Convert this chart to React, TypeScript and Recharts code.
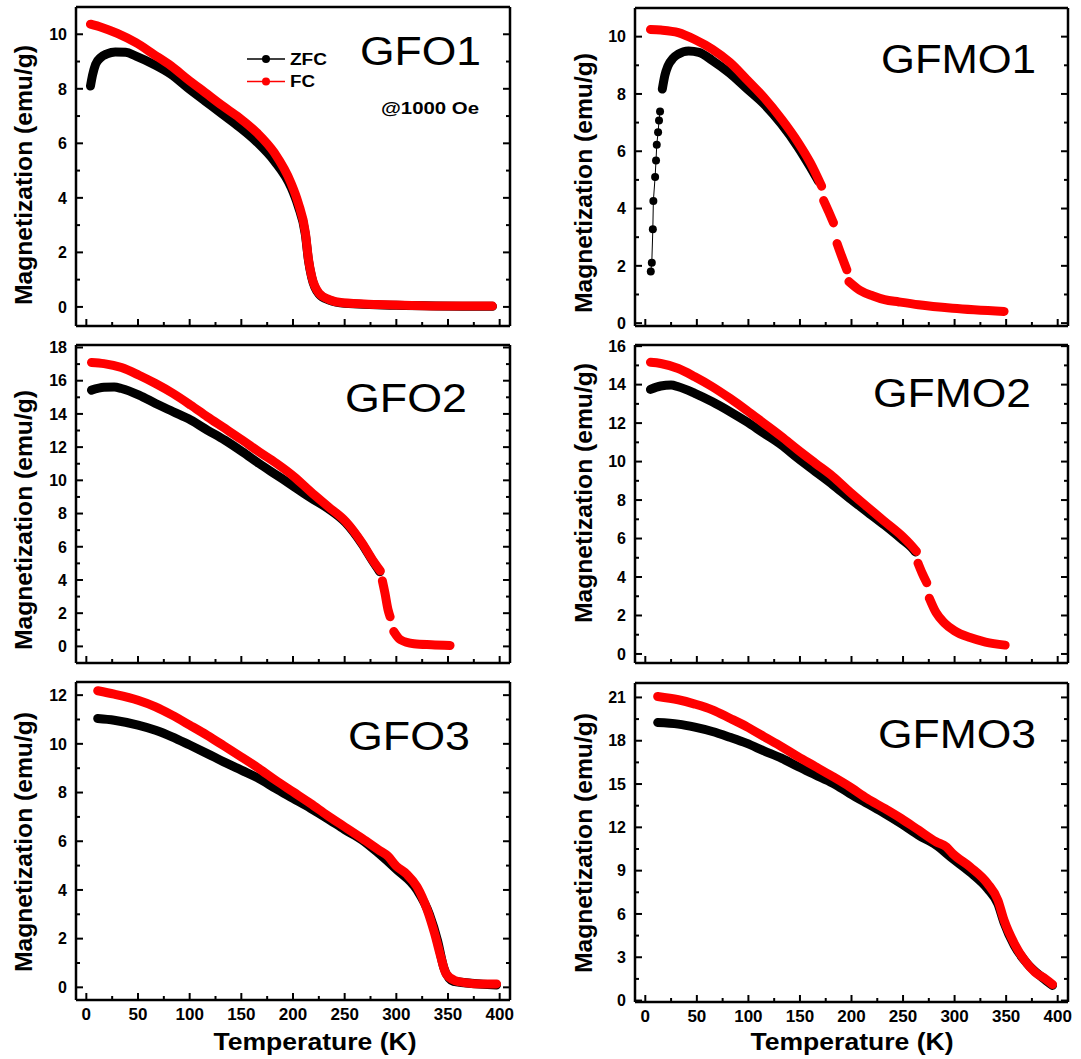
import { LineChart, Line, XAxis, YAxis } from 'recharts';

type Pt = [number, number | null];

// temperature (K) vs magnetization (emu/g)
const gfo1Zfc: Pt[] = [[4, 8.1], [6, 8.5], [9, 8.9], [14, 9.15], [20, 9.28], [28, 9.35], [38, 9.34], [48, 9.2], [65, 8.9], [82, 8.53], [98, 8.04], [115, 7.55], [132, 7.06], [148, 6.6], [165, 6.05], [182, 5.35], [198, 4.4], [205, 3.7], [212, 2.65], [215, 1.7], [218, 1.1], [225, 0.48], [235, 0.25], [250, 0.13], [300, 0.06], [393, 0.02]];
const gfo1Fc: Pt[] = [[4, 10.37], [15, 10.25], [30, 10.03], [48, 9.69], [65, 9.27], [82, 8.84], [98, 8.35], [115, 7.86], [132, 7.37], [148, 6.94], [165, 6.39], [182, 5.65], [198, 4.55], [205, 3.82], [212, 2.72], [215, 1.74], [218, 1.13], [225, 0.51], [235, 0.27], [248, 0.15], [282, 0.09], [315, 0.05], [348, 0.03], [393, 0.03]];

const gfmo1ZfcLowT: Pt[] = [[5.3, 1.8], [6.3, 2.11], [7.3, 3.28], [7.8, 4.26], [9.5, 5.1], [10.4, 5.68], [11.1, 6.23], [12.4, 6.66], [13.3, 7.07], [14.3, 7.39]];
const gfmo1Zfc: Pt[] = [[16.5, 8.17], [19, 8.65], [22, 8.98], [27, 9.25], [32, 9.39], [42, 9.5], [52, 9.45], [65, 9.17], [82, 8.72], [98, 8.2], [115, 7.65], [132, 6.95], [148, 6.15], [160, 5.45], [168, 4.95]];
const gfmo1Fc: Pt[] = [[5, 10.25], [15, 10.23], [32, 10.14], [48, 9.9], [65, 9.56], [82, 9.1], [98, 8.52], [115, 7.88], [132, 7.13], [148, 6.32], [160, 5.6], [171, 4.78], [172, null], [173, 4.28], [178, 3.88], [182.5, 3.5], [184, null], [186, 2.78], [190.6, 2.32], [195.5, 1.86], [196.5, null], [197.5, 1.45], [208, 1.15], [221, 0.95], [232, 0.82], [246, 0.74], [265, 0.64], [298, 0.52], [348, 0.41]];

const gfo2Zfc: Pt[] = [[5, 15.43], [17, 15.6], [27, 15.62], [34, 15.53], [51, 15.13], [67, 14.63], [84, 14.13], [101, 13.63], [117, 13.03], [134, 12.42], [151, 11.72], [167, 11.02], [184, 10.32], [201, 9.62], [217, 8.95], [234, 8.3], [251, 7.45], [267, 6.15], [277, 5.15], [284, 4.5]];
const gfo2Fc: Pt[] = [[5, 17.1], [17, 17.03], [34, 16.79], [51, 16.33], [67, 15.83], [84, 15.23], [101, 14.53], [117, 13.83], [134, 13.13], [151, 12.42], [167, 11.72], [184, 11.02], [201, 10.22], [217, 9.32], [234, 8.42], [251, 7.52], [267, 6.21], [277, 5.21], [284.5, 4.55], [285.5, null], [286.5, 3.95], [289, 3.21], [292, 2.2], [294, 1.78], [295.5, null], [297.5, 0.9], [304, 0.4], [317, 0.16], [334, 0.1], [352, 0.06]];

const gfmo2Zfc: Pt[] = [[5, 13.75], [15, 13.93], [25, 13.98], [32, 13.89], [48, 13.55], [65, 13.11], [82, 12.6], [98, 12.08], [115, 11.47], [132, 10.87], [148, 10.17], [165, 9.48], [182, 8.79], [198, 8.1], [215, 7.4], [232, 6.7], [248, 6.0], [258, 5.55], [262, 5.3]];
const gfmo2Fc: Pt[] = [[5, 15.16], [15, 15.1], [32, 14.84], [48, 14.41], [65, 13.89], [82, 13.29], [98, 12.68], [115, 11.99], [132, 11.3], [148, 10.61], [165, 9.91], [182, 9.22], [198, 8.44], [215, 7.66], [232, 6.89], [250, 6.08], [257, 5.7], [263, 5.33], [263.6, null], [264.5, 4.72], [268.5, 4.2], [273, 3.7], [274, null], [275.5, 2.9], [282, 2.15], [290, 1.62], [300, 1.2], [315, 0.85], [330, 0.62], [349, 0.46]];

const gfo3Zfc: Pt[] = [[11, 11.04], [27, 10.97], [50, 10.77], [67, 10.56], [83, 10.29], [100, 9.95], [117, 9.6], [133, 9.26], [150, 8.92], [167, 8.58], [183, 8.17], [200, 7.76], [217, 7.35], [233, 6.94], [250, 6.48], [267, 6.05], [283, 5.5], [300, 4.85], [320, 4.0], [332, 3.0], [340, 1.9], [346, 0.8], [355, 0.25], [397, 0.1]];
const gfo3Fc: Pt[] = [[11, 12.18], [27, 12.04], [50, 11.79], [67, 11.52], [83, 11.18], [100, 10.77], [117, 10.35], [133, 9.92], [150, 9.46], [167, 8.99], [183, 8.51], [200, 8.03], [217, 7.55], [233, 7.07], [250, 6.59], [267, 6.11], [283, 5.64], [292, 5.38], [300, 4.98], [310, 4.65], [320, 4.13], [330, 3.17], [337, 2.22], [343, 1.26], [348, 0.57], [357, 0.27], [367, 0.19], [383, 0.14], [397, 0.14]];

const gfmo3Zfc: Pt[] = [[12, 19.26], [32, 19.15], [48, 18.94], [65, 18.64], [82, 18.24], [98, 17.83], [115, 17.3], [132, 16.79], [148, 16.21], [165, 15.63], [182, 15.05], [198, 14.36], [215, 13.66], [232, 12.97], [248, 12.27], [265, 11.46], [282, 10.77], [298, 9.84], [315, 8.9], [332, 7.75], [342, 6.7], [348, 5.4], [358, 3.8], [370, 2.6], [385, 1.6], [395, 1.05]];
const gfmo3Fc: Pt[] = [[12, 21.07], [32, 20.84], [48, 20.54], [65, 20.14], [82, 19.56], [98, 18.99], [115, 18.29], [132, 17.6], [148, 16.9], [165, 16.21], [182, 15.51], [198, 14.82], [215, 14.01], [232, 13.31], [248, 12.62], [265, 11.81], [282, 11.0], [292, 10.65], [298, 10.19], [315, 9.26], [332, 8.1], [342, 6.95], [348, 5.56], [358, 3.94], [368, 2.78], [378, 1.97], [388, 1.5], [395, 1.11]];

// ticks
const tempTicks = [0, 25, 50, 75, 100, 125, 150, 175, 200, 225, 250, 275, 300, 325, 350, 375, 400];
const ticks0to10 = [0, 1, 2, 3, 4, 5, 6, 7, 8, 9, 10];
const ticks0to18 = [0, 1, 2, 3, 4, 5, 6, 7, 8, 9, 10, 11, 12, 13, 14, 15, 16, 17, 18];
const ticks0to16 = [0, 1, 2, 3, 4, 5, 6, 7, 8, 9, 10, 11, 12, 13, 14, 15, 16];
const ticks0to12 = [0, 1, 2, 3, 4, 5, 6, 7, 8, 9, 10, 11, 12];
const ticks0to21 = [0, 1.5, 3, 4.5, 6, 7.5, 9, 10.5, 12, 13.5, 15, 16.5, 18, 19.5, 21];

const FONT = "'Liberation Sans', Arial, Helvetica, sans-serif";
const RED = '#ff0000';

const rows = (pts: Pt[]) => pts.map(([t, m]) => ({ t, m }));

// margins already allow for the 1px mirror axes on top and right
const panels = [
  { key: 'p1', left: 0, top: 0, width: 540, height: 335, margin: { top: 6, right: 29, bottom: 8, left: 0 }, yW: 76, yDomain: [-0.7, 11], yTicks: ticks0to10, yStep: 2, xLabels: false, series: [gfo1Zfc, gfo1Fc] },
  { key: 'p2', left: 540, top: 0, width: 541, height: 335, margin: { top: 7, right: 12, bottom: 8, left: 0 }, yW: 95, yDomain: [-0.1, 11], yTicks: ticks0to10, yStep: 2, xLabels: false, series: [gfmo1Zfc, gfmo1Fc], lowT: gfmo1ZfcLowT },
  { key: 'p3', left: 0, top: 335, width: 540, height: 337, margin: { top: 9, right: 29, bottom: 8, left: 0 }, yW: 76, yDomain: [-1, 18.15], yTicks: ticks0to18, yStep: 2, xLabels: false, series: [gfo2Zfc, gfo2Fc] },
  { key: 'p4', left: 540, top: 335, width: 541, height: 337, margin: { top: 9, right: 12, bottom: 8, left: 0 }, yW: 95, yDomain: [-0.47, 16.06], yTicks: ticks0to16, yStep: 2, xLabels: false, series: [gfmo2Zfc, gfmo2Fc] },
  { key: 'p5', left: 0, top: 672, width: 540, height: 387, margin: { top: 9, right: 29, bottom: 58, left: 0 }, yW: 76, yDomain: [-0.52, 12.54], yTicks: ticks0to12, yStep: 2, xLabels: true, series: [gfo3Zfc, gfo3Fc] },
  { key: 'p6', left: 540, top: 672, width: 541, height: 387, margin: { top: 10, right: 12, bottom: 56, left: 0 }, yW: 95, yDomain: [-0.1, 22], yTicks: ticks0to21, yStep: 3, xLabels: true, series: [gfmo3Zfc, gfmo3Fc] },
];

const frame = { stroke: '#000', strokeWidth: 2.5 };

function Panel({ p }: { p: any }) {
  const isMajorY = (v: number) => Math.abs(v / p.yStep - Math.round(v / p.yStep)) < 1e-6;
  const isMajorX = (v: number) => v % 50 === 0;
  return (
    <div style={{ position: 'absolute', left: p.left, top: p.top }}>
      <LineChart width={p.width} height={p.height} margin={p.margin}>
        <XAxis
          xAxisId="b" type="number" dataKey="t" domain={[-10, 410]} allowDataOverflow
          ticks={tempTicks} interval={0} height={1} tickSize={0} tickMargin={0}
          axisLine={frame} tickLine={false}
          tick={(t: any) => {
            const major = isMajorX(t.payload.value);
            return (
              <g>
                <line x1={t.x} x2={t.x} y1={t.y} y2={t.y - (major ? 7 : 4)} stroke="#000" strokeWidth={2} />
                {p.xLabels && major && (
                  <text x={t.x} y={t.y + 20} textAnchor="middle" fontSize={17} fontWeight="bold" fontFamily={FONT} fill="#000">{t.payload.value}</text>
                )}
              </g>
            );
          }}
        />
        <XAxis
          xAxisId="t" orientation="top" type="number" domain={[-10, 410]} allowDataOverflow
          ticks={tempTicks} interval={0} height={1} tickSize={0} tickMargin={0}
          axisLine={frame} tickLine={false}
          tick={(t: any) => (
            <line x1={t.x} x2={t.x} y1={t.y} y2={t.y + (isMajorX(t.payload.value) ? 7 : 4)} stroke="#000" strokeWidth={2} />
          )}
        />
        <YAxis
          yAxisId="l" type="number" domain={p.yDomain} allowDataOverflow
          ticks={p.yTicks} interval={0} width={p.yW} tickSize={0} tickMargin={0}
          axisLine={frame} tickLine={false}
          tick={(t: any) => {
            const major = isMajorY(t.payload.value);
            return (
              <g>
                <line x1={t.x} x2={t.x + (major ? 7 : 4)} y1={t.y} y2={t.y} stroke="#000" strokeWidth={2} />
                {major && (
                  <text x={t.x - 9} y={t.y} dy="0.36em" textAnchor="end" fontSize={16} fontWeight="bold" fontFamily={FONT} fill="#000">{t.payload.value}</text>
                )}
              </g>
            );
          }}
        />
        <YAxis
          yAxisId="r" orientation="right" type="number" domain={p.yDomain} allowDataOverflow
          ticks={p.yTicks} interval={0} width={1} tickSize={0} tickMargin={0}
          axisLine={frame} tickLine={false}
          tick={(t: any) => (
            <line x1={t.x} x2={t.x - (isMajorY(t.payload.value) ? 7 : 4)} y1={t.y} y2={t.y} stroke="#000" strokeWidth={2} />
          )}
        />
        {p.lowT && (
          <Line
            data={rows(p.lowT)} dataKey="m" xAxisId="b" yAxisId="l" type="linear"
            stroke="#000" strokeWidth={1} dot={{ r: 4, fill: '#000', stroke: '#000', strokeWidth: 0 }}
            activeDot={false} isAnimationActive={false}
          />
        )}
        {p.series.map((s: Pt[], i: number) => (
          <Line
            key={i} data={rows(s)} dataKey="m" xAxisId="b" yAxisId="l" type="monotone"
            stroke={i === 0 ? '#000' : RED} strokeWidth={9} strokeLinecap="round" strokeLinejoin="round"
            dot={false} activeDot={false} isAnimationActive={false}
          />
        ))}
      </LineChart>
    </div>
  );
}

const titles = [
  { text: 'GFO1', x: 360, y: 65, len: 121 },
  { text: 'GFMO1', x: 881, y: 73, len: 155 },
  { text: 'GFO2', x: 345, y: 412, len: 122 },
  { text: 'GFMO2', x: 873, y: 407, len: 158 },
  { text: 'GFO3', x: 348, y: 750, len: 122 },
  { text: 'GFMO3', x: 878, y: 748, len: 158 },
];

const yLabels = [
  { x: 24, y: 175 },
  { x: 584, y: 183 },
  { x: 24, y: 520 },
  { x: 584, y: 493 },
  { x: 24, y: 842 },
  { x: 584, y: 843 },
];

const xLabels = [
  { x: 315, y: 1050 },
  { x: 852, y: 1050 },
];

export default function App() {
  return (
    <div style={{ position: 'absolute', left: 0, top: 0, width: 1081, height: 1059, background: '#fff', overflow: 'hidden' }}>
      {panels.map((p) => <Panel key={p.key} p={p} />)}
      <svg width={1081} height={1059} style={{ position: 'absolute', left: 0, top: 0, pointerEvents: 'none' }}>
        {titles.map((t) => (
          <text key={t.text} x={t.x} y={t.y} fontSize={40} fontFamily={FONT} fill="#000" textLength={t.len} lengthAdjust="spacingAndGlyphs">{t.text}</text>
        ))}
        {yLabels.map((l, i) => (
          <text key={i} transform={`translate(${l.x},${l.y}) rotate(-90)`} textAnchor="middle" dominantBaseline="central" fontSize={23} fontWeight="bold" fontFamily={FONT} fill="#000" textLength={260} lengthAdjust="spacingAndGlyphs">Magnetization (emu/g)</text>
        ))}
        {xLabels.map((l, i) => (
          <text key={i} x={l.x} y={l.y} textAnchor="middle" fontSize={24} fontWeight="bold" fontFamily={FONT} fill="#000" textLength={203} lengthAdjust="spacingAndGlyphs">Temperature (K)</text>
        ))}
        {/* legend, first panel */}
        <line x1={247} x2={285} y1={59} y2={59} stroke="#000" strokeWidth={1.5} />
        <circle cx={266} cy={59} r={4} fill="#000" />
        <text x={290} y={64.5} fontSize={16} fontWeight="bold" fontFamily={FONT} fill="#000" textLength={37} lengthAdjust="spacingAndGlyphs">ZFC</text>
        <line x1={247} x2={285} y1={81.5} y2={81.5} stroke={RED} strokeWidth={1.5} />
        <circle cx={266} cy={81.5} r={4} fill={RED} />
        <text x={290} y={87} fontSize={16} fontWeight="bold" fontFamily={FONT} fill="#000" textLength={25} lengthAdjust="spacingAndGlyphs">FC</text>
        <text x={381} y={114} fontSize={16} fontWeight="bold" fontFamily={FONT} fill="#000" textLength={98} lengthAdjust="spacingAndGlyphs">@1000 Oe</text>
      </svg>
    </div>
  );
}
